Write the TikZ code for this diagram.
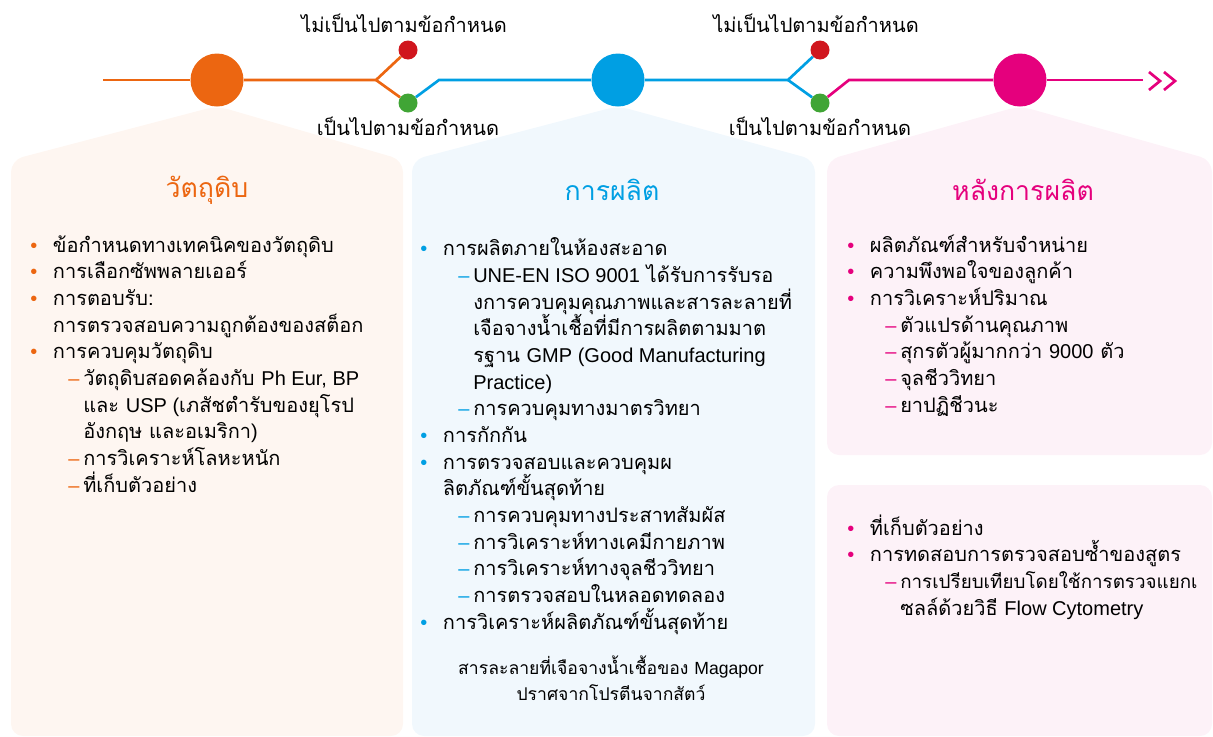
\documentclass[tikz,border=0pt]{standalone}
\usepackage{fontspec}
\usepackage{xcolor}
\newfontfamily\thaifont[Script=Thai]{Loma}
\newfontfamily\latfont{Liberation Sans}
\usetikzlibrary{positioning}

\definecolor{rawc}{HTML}{EC6611}
\definecolor{prodc}{HTML}{009FE3}
\definecolor{postc}{HTML}{E5007D}
\definecolor{nokc}{HTML}{D0161E}
\definecolor{okc}{HTML}{40A535}
\definecolor{rawbg}{HTML}{FEF6F1}
\definecolor{prodbg}{HTML}{F1F8FD}
\definecolor{postbg}{HTML}{FDF2F8}

\newcommand{\lat}[1]{{\latfont #1}}
\newcommand{\bul}[2]{\makebox[17pt][l]{\textcolor{#1}{\latfont\textbullet}}#2}
\newcommand{\subit}[2]{\hspace*{28.5pt}\makebox[11.25pt][l]{\textcolor{#1}{\latfont\textendash}}#2}
\newcommand{\cont}[1]{\hspace*{17pt}#1}
\newcommand{\subcont}[1]{\hspace*{39.75pt}#1}

\begin{document}
\begin{tikzpicture}[x=0.75pt,y=-0.75pt,
		stage/.style={circle,inner sep=0pt,minimum size=39.75pt},
		dot/.style={circle,inner sep=0pt,minimum size=14.25pt},
		labtext/.style={font={\thaifont\fontsize{15}{18}\selectfont}},
		title/.style={font={\thaifont\fontsize{20}{24}\selectfont}},
		listtext/.style={inner sep=0pt,align=left,anchor=base west,
			font={\thaifont\fontsize{15}{20}\selectfont\lineskiplimit=-20pt}},
		note/.style={inner sep=0pt,align=center,
			font={\thaifont\fontsize{13.2}{19.5}\selectfont\lineskiplimit=-20pt}}]
			\useasboundingbox (0,0) rectangle (1213,736);
			
			% panels
			\fill[rawbg,rounded corners=9pt] (11,736) -- (11,160) -- (217,106) -- (403,160) -- (403,736) -- cycle;
			\fill[prodbg,rounded corners=9pt] (412,736) -- (412,160) -- (618,106) -- (815,160) -- (815,736) -- cycle;
			\fill[postbg,rounded corners=9pt] (827,455) -- (827,160) -- (1020,106) -- (1212,160) -- (1212,455) -- cycle;
			\fill[postbg,rounded corners=9pt] (827,736) rectangle (1212,485);
			
			% time line
			\node[stage,fill=rawc] (raw) at (217,80) {};
			\node[stage,fill=prodc] (prod) at (618,80) {};
			\node[stage,fill=postc] (post) at (1020,80) {};
			\node[dot,fill=nokc,label={[labtext,label distance=2.5pt,xshift=-3pt]above:ไม่เป็นไปตามข้อกำหนด}] (nok1) at (408,50) {};
			\node[dot,fill=okc,label={[labtext,label distance=0pt]below:เป็นไปตามข้อกำหนด}] (ok1) at (408,103) {};
			\node[dot,fill=nokc,label={[labtext,label distance=2.5pt,xshift=-3pt]above:ไม่เป็นไปตามข้อกำหนด}] (nok2) at (820,50) {};
			\node[dot,fill=okc,label={[labtext,label distance=0pt]below:เป็นไปตามข้อกำหนด}] (ok2) at (820,103) {};
			\coordinate (start) at (103,80);
			\coordinate (fork1) at (376,80);
			\coordinate (bend1) at (439,80);
			\coordinate (fork2) at (788,80);
			\coordinate (bend2) at (849,80);
			\coordinate (stop) at (1143,80);
			
			\draw[rawc,line width=2pt] (start) -- (raw);
			\draw[rawc,line width=2pt] (raw) -- (fork1) -- (nok1);
			\draw[rawc,line width=2pt] (fork1) -- (ok1);
			\draw[prodc,line width=2pt] (ok1) -- (bend1) -- (prod);
			\draw[prodc,line width=2pt] (prod) -- (fork2) -- (nok2);
			\draw[prodc,line width=2pt] (fork2) -- (ok2);
			\draw[postc,line width=2pt] (ok2) -- (bend2) -- (post);
			\draw[postc,line width=2pt] (post) -- (stop);
			\draw[postc,line width=2pt] (1149,72) -- (1160,81) -- (1149,90);
			\draw[postc,line width=2pt] (1164,72) -- (1175,81) -- (1164,90);
			
			% titles
			\node[title,text=rawc] (rawtitle) at (207,190) {วัตถุดิบ};
			\node[title,text=prodc] (prodtitle) at (612,190) {การผลิต};
			\node[title,text=postc] (posttitle) at (1023,190) {หลังการผลิต};
			
			% lists (anchored at the baseline of their last line)
			\node[listtext] (rawlist) at (30,492) {%
				\bul{rawc}{ข้อกำหนดทางเทคนิคของวัตถุดิบ}\\
				\bul{rawc}{การเลือกซัพพลายเออร์}\\
				\bul{rawc}{การตอบรับ:}\\
				\cont{การตรวจสอบความถูกต้องของสต็อก}\\
				\bul{rawc}{การควบคุมวัตถุดิบ}\\
				\subit{rawc}{วัตถุดิบสอดคล้องกับ \lat{Ph Eur, BP}}\\
				\subcont{และ \lat{USP (}เภสัชตำรับของยุโรป}\\
				\subcont{อังกฤษ และอเมริกา\lat{)}}\\
				\subit{rawc}{การวิเคราะห์โลหะหนัก}\\
				\subit{rawc}{ที่เก็บตัวอย่าง}};
			\node[listtext] (prodlist) at (420,629) {%
				\bul{prodc}{การผลิตภายในห้องสะอาด}\\
				\subit{prodc}{\lat{UNE-EN ISO 9001} ได้รับการรับรอ}\\
				\subcont{งการควบคุมคุณภาพและสารละลายที่}\\
				\subcont{เจือจางน้ำเชื้อที่มีการผลิตตามมาต}\\
				\subcont{รฐาน \lat{GMP (Good Manufacturing}}\\
				\subcont{\lat{Practice)}}\\
				\subit{prodc}{การควบคุมทางมาตรวิทยา}\\
				\bul{prodc}{การกักกัน}\\
				\bul{prodc}{การตรวจสอบและควบคุมผ}\\
				\cont{ลิตภัณฑ์ขั้นสุดท้าย}\\
				\subit{prodc}{การควบคุมทางประสาทสัมผัส}\\
				\subit{prodc}{การวิเคราะห์ทางเคมีกายภาพ}\\
				\subit{prodc}{การวิเคราะห์ทางจุลชีววิทยา}\\
				\subit{prodc}{การตรวจสอบในหลอดทดลอง}\\
				\bul{prodc}{การวิเคราะห์ผลิตภัณฑ์ขั้นสุดท้าย}};
			\node[note] (prodnote) at (611,678) {สารละลายที่เจือจางน้ำเชื้อของ \lat{Magapor}\\ปราศจากโปรตีนจากสัตว์};
			\node[listtext] (postlist) at (847,412) {%
				\bul{postc}{ผลิตภัณฑ์สำหรับจำหน่าย}\\
				\bul{postc}{ความพึงพอใจของลูกค้า}\\
				\bul{postc}{การวิเคราะห์ปริมาณ}\\
				\subit{postc}{ตัวแปรด้านคุณภาพ}\\
				\subit{postc}{สุกรตัวผู้มากกว่า \lat{9000} ตัว}\\
				\subit{postc}{จุลชีววิทยา}\\
				\subit{postc}{ยาปฏิชีวนะ}};
			\node[listtext] (checklist) at (847,615) {%
				\bul{postc}{ที่เก็บตัวอย่าง}\\
				\bul{postc}{การทดสอบการตรวจสอบซ้ำของสูตร}\\
				\subit{postc}{{\fontsize{14.1}{20}\selectfont การเปรียบเทียบโดยใช้การตรวจแยกเ}}\\
				\subcont{ซลล์ด้วยวิธี \lat{Flow Cytometry}}};
		\end{tikzpicture}
\end{document}
